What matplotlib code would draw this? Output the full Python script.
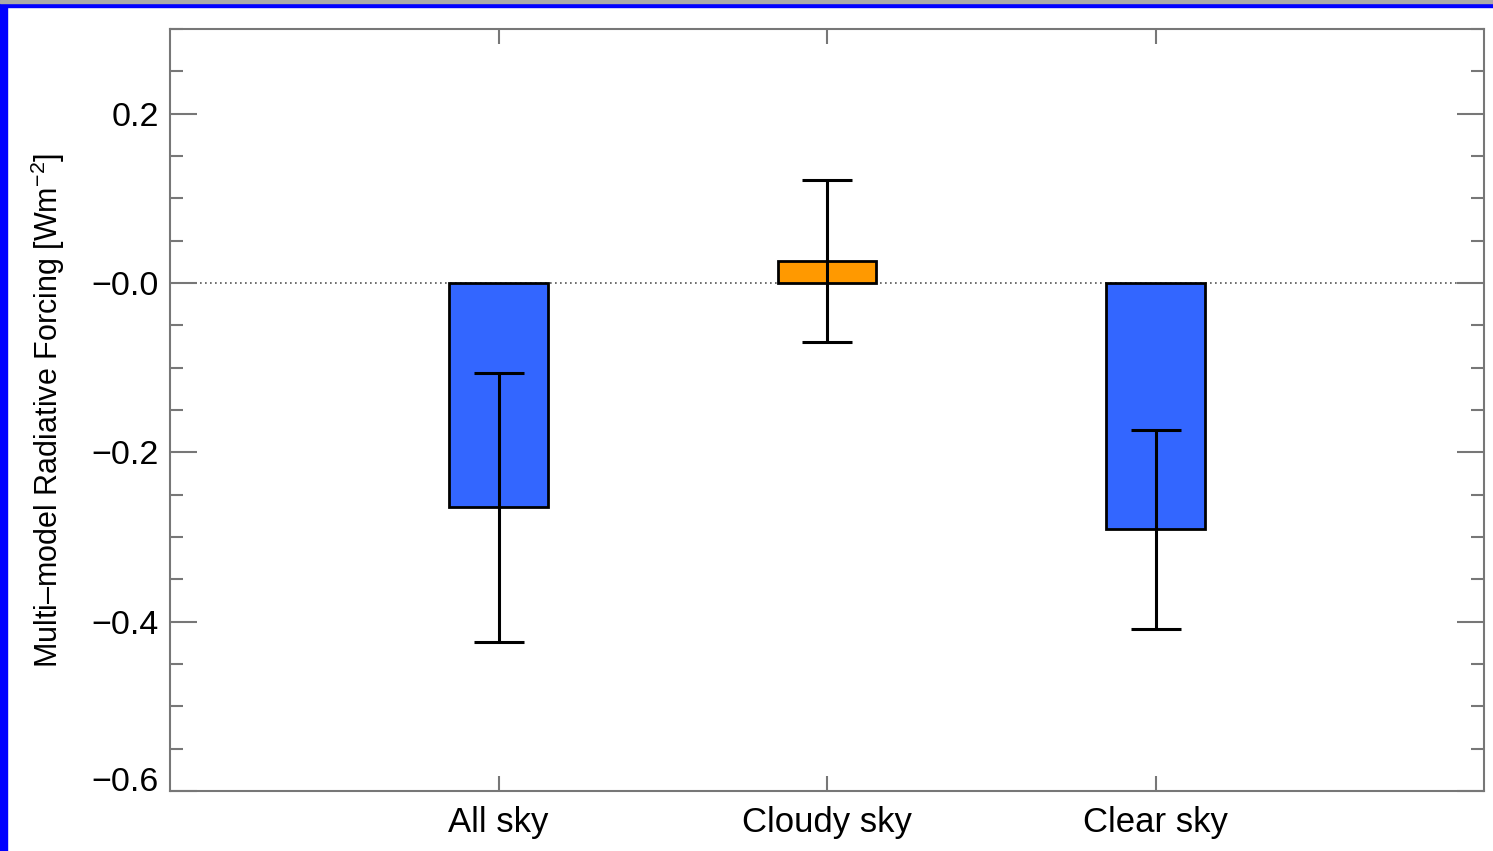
import matplotlib
matplotlib.use("Agg")
from matplotlib import pyplot as plt
from matplotlib.patches import Rectangle
from matplotlib.ticker import FixedLocator, FixedFormatter, MultipleLocator
import numpy as np

categories = ["All sky", "Cloudy sky", "Clear sky"]
forcing = [-0.265, 0.026, -0.291]
spread = [0.159, 0.096, 0.1175]
bar_colors = ["#3366ff", "#ff9900", "#3366ff"]
ytick_vals = [0.2, 0.0, -0.2, -0.4, -0.6]
ytick_labels = ["0.2", "\u22120.0", "\u22120.2", "\u22120.4", "\u22120.6"]

plt.rcParams["font.family"] = ["Liberation Sans", "DejaVu Sans"]
plt.rcParams["mathtext.fontset"] = "custom"
plt.rcParams["mathtext.rm"] = "Liberation Sans"

fig = plt.figure(figsize=(14.93, 8.51), dpi=100)
ax = fig.add_axes([170 / 1493, 1 - 791 / 851, 1314 / 1493, 762 / 851])

x = np.arange(1, len(categories) + 1)
ax.axhline(0, color="#555555", lw=1.2, ls=(0, (1, 2)), zorder=1)
ax.bar(x, forcing, width=0.3, color=bar_colors, edgecolor="black", linewidth=2, zorder=2)
ax.errorbar(x, forcing, yerr=spread, fmt="none", ecolor="black", elinewidth=2.2,
            capsize=18, capthick=2.2, zorder=3)

ax.set_xlim(0, 4)
ax.set_ylim(-0.6, 0.3)

spine_col = "#777777"
for s in ax.spines.values():
    s.set_color(spine_col)
    s.set_linewidth(1.5)

ax.xaxis.set_major_locator(FixedLocator(x))
ax.xaxis.set_major_formatter(FixedFormatter(categories))
ax.yaxis.set_major_locator(FixedLocator(ytick_vals))
ax.yaxis.set_major_formatter(FixedFormatter(ytick_labels))
ax.yaxis.set_minor_locator(MultipleLocator(0.05))

ax.tick_params(axis="x", which="major", direction="in", top=True, bottom=True,
               length=11, width=1.5, color=spine_col, labelsize=25, pad=11)
ax.tick_params(axis="y", which="major", direction="in", left=True, right=True,
               length=19.5, width=1.5, color=spine_col, labelsize=24.5, pad=8)
ax.tick_params(axis="y", which="minor", direction="in", left=True, right=True,
               length=9.5, width=1.5, color=spine_col)
ax.tick_params(axis="x", which="minor", bottom=False, top=False)

ylabels = ax.get_yticklabels()
ylabels[-1].set_va("baseline")

ax.set_ylabel("Multi\u2013model Radiative Forcing [Wm$^{-2}$]", fontsize=22, labelpad=18)

# slide frame
fig.patches.append(Rectangle((0, 0), 7 / 1493, 1, transform=fig.transFigure,
                             color="#0000ff", zorder=10))
fig.patches.append(Rectangle((0, 1 - 7 / 851), 1, 4 / 851, transform=fig.transFigure,
                             color="#0000ff", zorder=10))
fig.patches.append(Rectangle((0, 1 - 3 / 851), 1, 3 / 851, transform=fig.transFigure,
                             color="#aaaaaa", zorder=10))

plt.savefig("out.png", dpi=100)
plt.close()
